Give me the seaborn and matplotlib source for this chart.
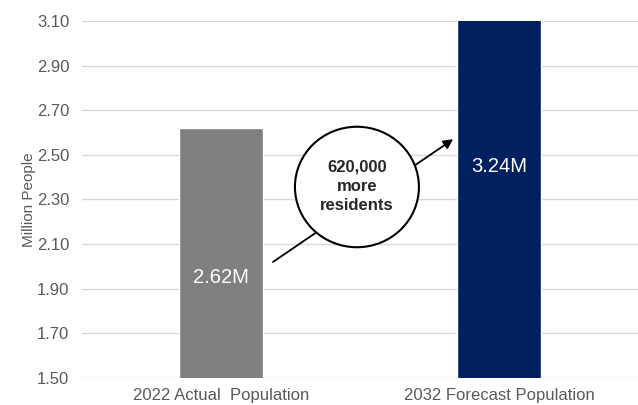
import pandas as pd
import seaborn as sns
import matplotlib.pyplot as plt
from matplotlib.patches import Ellipse

# Data
categories = ["2022 Actual  Population", "2032 Forecast Population"]
population = [2.62, 3.24]
bar_labels = ["2.62M", "3.24M"]
colors = ["#7f7f7f", "#002060"]

df = pd.DataFrame({"category": categories, "population": population})

sns.set_style("white")
plt.rcParams["font.family"] = ["Liberation Sans", "DejaVu Sans"]

fig = plt.figure(figsize=(6.38, 4.05), dpi=100)
ax = fig.add_axes([0.1285, 0.0667, 0.8715, 0.8815])

sns.barplot(data=df, x="category", y="population", hue="category",
            palette=colors, saturation=1, width=0.3, legend=False, ax=ax, zorder=3)

ax.set_ylim(1.5, 3.1)
ax.set_xlim(-0.5, 1.5)
ax.set_yticks([1.5 + 0.2 * i for i in range(9)])
ax.set_yticklabels([f"{1.5 + 0.2 * i:.2f}" for i in range(9)])
ax.yaxis.grid(True, color="#d9d9d9", linewidth=1)
ax.set_axisbelow(True)
for s in ax.spines.values():
    s.set_visible(False)
ax.tick_params(axis="y", colors="#595959", labelsize=12, length=0, pad=9)
ax.tick_params(axis="x", colors="#595959", labelsize=12, length=0, pad=7)
ax.set_xlabel("")
ax.set_ylabel("Million People", color="#595959", fontsize=11, labelpad=1)

# value labels inside bars
ax.text(0, 1.95, bar_labels[0], color="white", fontsize=14.5, ha="center", va="center")
ax.text(1, 2.45, bar_labels[1], color="white", fontsize=14.5, ha="center", va="center")

# arrow and callout circle
ax.annotate("", xy=(0.835, 2.57), xytext=(0.187, 2.02),
            arrowprops=dict(arrowstyle="-|>", color="black", lw=1.3,
                            mutation_scale=14, shrinkA=0, shrinkB=0), zorder=4)
circle = Ellipse((0.489, 2.356), 0.446, 0.54, facecolor="white",
                 edgecolor="black", lw=1.5, zorder=5)
ax.add_patch(circle)
ax.text(0.489, 2.36, "620,000\nmore\nresidents", ha="center", va="center",
        fontsize=12, fontweight="bold", linespacing=1.35, zorder=6)

fig.savefig("out.png", dpi=100)
